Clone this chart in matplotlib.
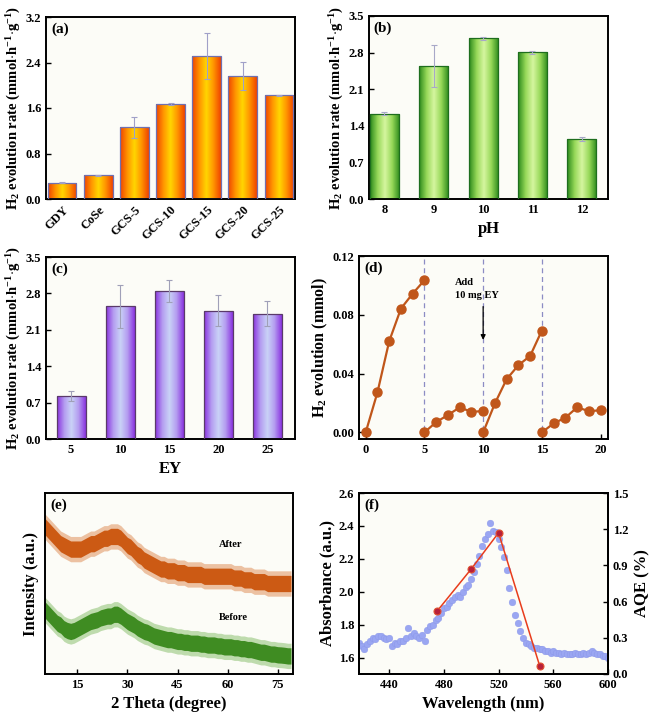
import numpy as np
import matplotlib
matplotlib.use("Agg")
import matplotlib.pyplot as plt
from matplotlib.colors import LinearSegmentedColormap

plt.rcParams['font.family'] = ['Liberation Serif', 'DejaVu Serif']
plt.rcParams['font.weight'] = 'bold'
plt.rcParams['mathtext.fontset'] = 'custom'
plt.rcParams['mathtext.rm'] = 'Liberation Serif:bold'
plt.rcParams['mathtext.bf'] = 'Liberation Serif:bold'
plt.rcParams['mathtext.it'] = 'Liberation Serif:bold'

### (a) catalysts
cat_names = ["GDY", "CoSe", "GCS-5", "GCS-10", "GCS-15", "GCS-20", "GCS-25"]
cat_rate = [0.29, 0.42, 1.26, 1.67, 2.51, 2.16, 1.82]
cat_err = [0.01, 0.01, 0.19, 0.01, 0.40, 0.24, 0.01]

### (b) pH
ph_vals = ["8", "9", "10", "11", "12"]
ph_rate = [1.63, 2.54, 3.07, 2.81, 1.15]
ph_err = [0.03, 0.40, 0.03, 0.03, 0.04]

### (c) EY amount
ey_vals = ["5", "10", "15", "20", "25"]
ey_rate = [0.83, 2.55, 2.84, 2.47, 2.41]
ey_err = [0.10, 0.41, 0.21, 0.29, 0.24]

### (d) cycling
cyc_t = [[0, 1, 2, 3, 4, 5], [5, 6, 7, 8, 9, 10], [10, 11, 12, 13, 14, 15], [15, 16, 17, 18, 19, 20]]
cyc_h2 = [[0.0, 0.0272, 0.062, 0.0842, 0.0944, 0.1035],
          [0.0, 0.0070, 0.0118, 0.0170, 0.0140, 0.0145],
          [0.0, 0.0197, 0.0362, 0.0457, 0.0520, 0.0693],
          [0.0, 0.0061, 0.0100, 0.0170, 0.0145, 0.0150]]
cyc_breaks = [5, 10, 15]

### (e) XRD, trend of the noisy patterns read per degree
xrd_theta = list(range(5, 80))
xrd_after = [82, 80, 78, 76, 74, 72, 71, 70, 69, 69, 69, 69, 70, 71, 72, 72, 73, 74, 75, 75,
             76, 76, 76, 75, 73, 71, 70, 68, 66, 65, 63, 62, 61, 60, 59, 58, 58, 57, 57, 57,
             56, 56, 56, 55, 55, 55, 55, 55, 54, 54, 54, 54, 54, 54, 54, 54, 54, 53, 53, 53,
             52, 52, 52, 51, 51, 51, 51, 50, 50, 50, 50, 50, 50, 50, 50]
xrd_before = [36, 34, 32, 30, 28, 27, 25, 24, 23.5, 24, 25, 26, 27, 28, 29, 29.5, 30, 31, 31.5, 32,
              32, 33, 33, 32, 30.5, 29, 28, 27, 25.5, 24.5, 23.5, 23, 22, 21, 20.5, 20, 19.5, 19, 19, 18.5,
              18, 18, 17.5, 17.5, 17, 17, 17, 16.5, 16.5, 16, 16, 16, 15.5, 15.5, 15, 15, 15, 14.5, 14.5, 14,
              14, 13.5, 13.5, 13, 12.5, 12, 12, 11.5, 11, 11, 10.6, 10.5, 10.3, 10, 10]

### (f) absorbance and AQE
abs_wl = list(range(418, 601, 2))
abs_val = [1.69, 1.67, 1.65, 1.68, 1.70, 1.72, 1.71, 1.73, 1.73, 1.72, 1.71, 1.72, 1.67, 1.69, 1.68, 1.70,
           1.70, 1.72, 1.78, 1.73, 1.75, 1.73, 1.72, 1.74, 1.70, 1.77, 1.79, 1.80, 1.83, 1.84, 1.87, 1.90,
           1.91, 1.93, 1.95, 1.97, 1.98, 1.97, 2.00, 2.03, 2.04, 2.08, 2.12, 2.17, 2.22, 2.28, 2.32, 2.35,
           2.42, 2.37, 2.36, 2.32, 2.27, 2.21, 2.13, 2.02, 1.94, 1.86, 1.81, 1.76, 1.72, 1.69, 1.68, 1.67,
           1.66, 1.66, 1.65, 1.65, 1.64, 1.64, 1.63, 1.64, 1.63, 1.63, 1.62, 1.63, 1.62, 1.62, 1.62, 1.63,
           1.62, 1.62, 1.63, 1.62, 1.63, 1.64, 1.63, 1.62, 1.62, 1.61, 1.61, 1.60]
aqe_wl = [475, 500, 520, 550]
aqe_val = [0.52, 0.87, 1.17, 0.07]

rate_label = r'H$_{2}$ evolution rate (mmol$\cdot$h$^{-1}$$\cdot$g$^{-1}$)'


def style_ax(ax):
    ax.set_facecolor('#fcfcf7')
    for s in ax.spines.values():
        s.set_linewidth(1.4)
    ax.tick_params(direction='in', width=1.0, length=3.5, labelsize=9)
    for lab in ax.get_xticklabels() + ax.get_yticklabels():
        lab.set_fontweight('bold')


def grad_bars(ax, x, h, w, colors, ec):
    cmap = LinearSegmentedColormap.from_list('g', colors)
    grad = np.linspace(0, 1, 64).reshape(1, -1)
    bars = ax.bar(x, h, w, color='none', edgecolor=ec, linewidth=0.9, zorder=3)
    for b in bars:
        x0, y0 = b.get_x(), b.get_y()
        im = ax.imshow(grad, cmap=cmap, aspect='auto', zorder=2,
                       extent=[x0, x0 + b.get_width(), y0, y0 + b.get_height()])
        im.set_clip_path(b)
    return bars


def panel_tag(ax, s):
    ax.text(0.02, 0.97, s, transform=ax.transAxes, ha='left', va='top',
            fontsize=11, fontweight='bold')


fig = plt.figure(figsize=(6.5, 7.2), dpi=100)
W, H = 650.0, 720.0


def add_ax(l, t, r, b):
    return fig.add_axes([l / W, 1 - b / H, (r - l) / W, (b - t) / H])


# (a)
ax = add_ax(46, 17, 295, 199)
xa = np.arange(len(cat_names))
grad_bars(ax, xa, cat_rate, 0.79,
          ['#f04400', '#ff9400', '#ffd600', '#ff9400', '#f04400'], '#7070b0')
ax.errorbar(xa, cat_rate, yerr=cat_err, fmt='none', ecolor='#a0a0c8',
            elinewidth=0.8, capsize=2.5, capthick=0.8, zorder=4)
ax.set_xlim(-0.45, 6.45)
ax.set_ylim(0, 3.2)
ax.set_yticks([0.0, 0.8, 1.6, 2.4, 3.2])
ax.set_xticks(xa)
ax.set_xticklabels(cat_names, rotation=45, ha='right', rotation_mode='anchor', fontsize=8)
ax.set_ylabel(rate_label, fontsize=10.5, fontweight='bold', labelpad=2)
style_ax(ax)
panel_tag(ax, '(a)')

# (b)
ax = add_ax(369, 16, 608, 199)
xb = np.arange(len(ph_vals))
grad_bars(ax, xb, ph_rate, 0.59,
          ['#2c8a1c', '#96d858', '#d6f6a0', '#96d858', '#2c8a1c'], '#1e6e1e')
ax.errorbar(xb, ph_rate, yerr=ph_err, fmt='none', ecolor='#a8a8c8',
            elinewidth=0.8, capsize=2.5, capthick=0.8, zorder=4)
ax.set_xlim(-0.31, 4.53)
ax.set_ylim(0, 3.5)
ax.set_yticks([0.0, 0.7, 1.4, 2.1, 2.8, 3.5])
ax.set_xticks(xb)
ax.set_xticklabels(ph_vals)
ax.set_xlabel('pH', fontsize=12, fontweight='bold')
ax.set_ylabel(rate_label, fontsize=10.5, fontweight='bold', labelpad=2)
style_ax(ax)
panel_tag(ax, '(b)')

# (c)
ax = add_ax(46, 257, 295, 439)
xc = np.arange(len(ey_vals))
grad_bars(ax, xc, ey_rate, 0.59,
          ['#8a34e0', '#b49cf0', '#cad3f7', '#b49cf0', '#8a34e0'], '#5a3a6a')
ax.errorbar(xc, ey_rate, yerr=ey_err, fmt='none', ecolor='#a0a0b8',
            elinewidth=0.8, capsize=2.5, capthick=0.8, zorder=4)
ax.set_xlim(-0.51, 4.56)
ax.set_ylim(0, 3.5)
ax.set_yticks([0.0, 0.7, 1.4, 2.1, 2.8, 3.5])
ax.set_xticks(xc)
ax.set_xticklabels(ey_vals)
ax.set_xlabel('EY', fontsize=12, fontweight='bold')
ax.set_ylabel(rate_label, fontsize=10.5, fontweight='bold', labelpad=2)
style_ax(ax)
panel_tag(ax, '(c)')

# (d)
ax = add_ax(359, 256, 608, 439)
for t, v in zip(cyc_t, cyc_h2):
    ax.plot(t, v, '-o', color='#c0561a', lw=1.6, ms=6.5, zorder=3)
for xb_ in cyc_breaks:
    ax.axvline(xb_, color='#8c8cc4', ls=(0, (4, 3)), lw=0.9, zorder=1)
ax.text(7.6, 0.1017, 'Add', fontsize=7.5, fontweight='bold', va='center')
ax.text(7.6, 0.0933, '10 mg EY', fontsize=7.5, fontweight='bold', va='center')
ax.annotate('', xy=(10, 0.0610), xytext=(10, 0.0875),
            arrowprops=dict(arrowstyle='-|>', color='black', lw=0.9, mutation_scale=7))
ax.set_xlim(-0.57, 20.63)
ax.set_ylim(-0.0045, 0.12)
ax.set_xticks([0, 5, 10, 15, 20])
ax.set_yticks([0.00, 0.04, 0.08, 0.12])
ax.set_yticklabels(['0.00', '0.04', '0.08', '0.12'])
ax.set_ylabel(r'H$_{2}$ evolution (mmol)', fontsize=11.5, fontweight='bold', labelpad=2)
style_ax(ax)
panel_tag(ax, '(d)')

# (e)
ax = add_ax(45, 493, 293, 674)
ta = np.array(xrd_after)
tb = np.array(xrd_before)
ax.fill_between(xrd_theta, ta - 7, ta + 7, color='#e0925c', lw=0, alpha=0.55)
ax.fill_between(xrd_theta, ta - 4.5, ta + 4.5, color='#cc5a14', lw=0)
ax.fill_between(xrd_theta, tb - 7, tb + 7, color='#8cc070', lw=0, alpha=0.55)
ax.fill_between(xrd_theta, tb - 4.5, tb + 4.5, color='#3f8c22', lw=0)
ax.text(60.8, 71.5, 'After', fontsize=7.5, fontweight='bold', ha='center', va='center')
ax.text(61.8, 31, 'Before', fontsize=7.5, fontweight='bold', ha='center', va='center')
ax.set_xlim(5.3, 79.6)
ax.set_ylim(0, 100)
ax.set_xticks([15, 30, 45, 60, 75])
ax.set_yticks([])
ax.set_xlabel('2 Theta (degree)', fontsize=12, fontweight='bold')
ax.set_ylabel('Intensity (a.u.)', fontsize=12, fontweight='bold')
style_ax(ax)
panel_tag(ax, '(e)')

# (f)
ax = add_ax(359, 493, 608, 674)
ax.plot(abs_wl, abs_val, 'o', color='#9aa6f2', ms=4.8, mec='#8a96e8', mew=0.3, zorder=2)
ax.set_xlim(418, 600)
ax.set_ylim(1.5, 2.6)
ax.set_xticks([440, 480, 520, 560, 600])
ax.set_yticks([1.6, 1.8, 2.0, 2.2, 2.4, 2.6])
ax.set_xlabel('Wavelength (nm)', fontsize=12, fontweight='bold')
ax.set_ylabel('Absorbance (a.u.)', fontsize=12, fontweight='bold', labelpad=2)
style_ax(ax)
panel_tag(ax, '(f)')
ax2 = ax.twinx()
ax2.plot(aqe_wl, aqe_val, '-o', color='#e83c1c', lw=1.1, ms=5,
         mfc='#b8203a', mec='#e05030', mew=0.8, zorder=3)
ax2.set_ylim(0, 1.5)
ax2.set_yticks([0.0, 0.3, 0.6, 0.9, 1.2, 1.5])
ax2.set_ylabel('AQE (%)', fontsize=12, fontweight='bold')
for s in ax2.spines.values():
    s.set_linewidth(1.4)
ax2.tick_params(direction='in', width=1.0, length=3.5, labelsize=9)
for lab in ax2.get_yticklabels():
    lab.set_fontweight('bold')

fig.savefig('out.png', dpi=100, facecolor='white')
